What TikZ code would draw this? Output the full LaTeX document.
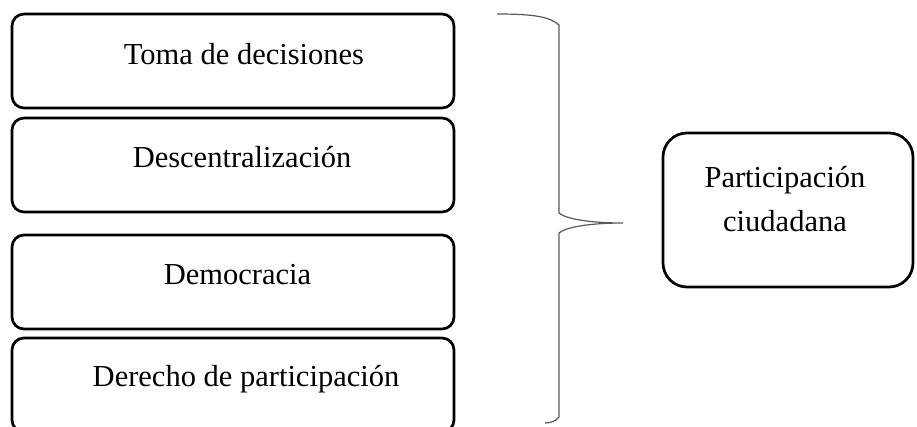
\documentclass[tikz,border=0pt]{standalone}
\usepackage{fontspec}
\setmainfont{Liberation Serif}
\begin{document}
\begin{tikzpicture}[x=0.5pt,y=-0.5pt,
  box/.style={draw=black, line width=1.35pt, rounded corners=6pt, inner sep=0pt, minimum width=221pt, minimum height=47pt},
  bigbox/.style={draw=black, line width=1.35pt, rounded corners=12pt, inner sep=0pt, minimum width=125pt, minimum height=77pt},
  lbl/.style={anchor=base, inner sep=0pt, font=\fontsize{15.25}{18}\selectfont},
  bracestyle/.style={draw=black!65, line width=0.6pt}]
\useasboundingbox (0,0) rectangle (917,427);
\node[box] (b1) at (233,61) {};
\node[box] (b2) at (233,165) {};
\node[box] (b3) at (233,282) {};
\node[box] (b4) at (233,385) {};
\node[lbl] (t1) at (244,65) {Toma de decisiones};
\node[lbl] (t2) at (242,168) {Descentralización};
\node[lbl] (t3) at (237.5,285) {Democracia};
\node[lbl] (t4) at (246,387) {Derecho de participación};
\node[bigbox] (pc) at (788,210) {};
\node[lbl] (p1) at (785,188) {Participación};
\node[lbl] (p2) at (785,232) {ciudadana};
\coordinate (tip) at (623,223);
\draw[bracestyle] (497,14) .. controls (535,14) and (550,17) .. (559,25)
  -- (559,213) .. controls (566,219) and (590,223) .. (tip)
  .. controls (590,223) and (566,227) .. (559,233)
  -- (559,417) .. controls (556,421) and (551,423) .. (545,423);
\end{tikzpicture}
\end{document}
